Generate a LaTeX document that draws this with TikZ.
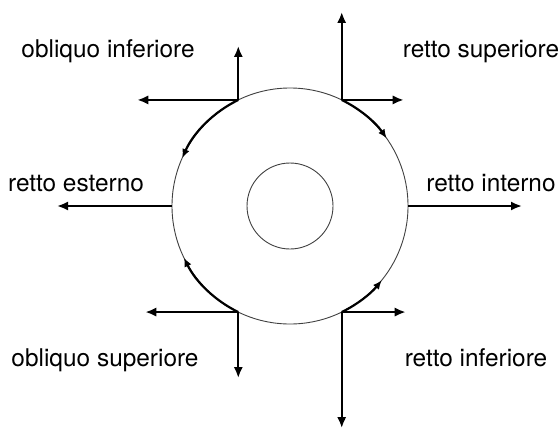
\documentclass[tikz,border=0pt]{standalone}
\usepackage{fontspec}
\setmainfont{TeX Gyre Heros}
\usetikzlibrary{arrows.meta,calc}
\tikzset{
  ring/.style={draw=black!75, line width=0.45pt},
  track/.style={draw, line width=1.1pt, -{Latex[length=4.5pt,width=3.8pt]}},
  pull/.style={draw, line width=1.1pt, -{Latex[length=5.5pt,width=4.6pt]}},
  lab/.style={anchor=base, inner sep=0pt, font=\fontsize{12.2}{14}\selectfont},
}

\begin{document}
\begin{tikzpicture}[x=0.5pt, y=0.5pt]
  \useasboundingbox (0,0) rectangle (560,430);
  % eye ball
  \coordinate (c) at (290,224);
  \draw[ring] (c) circle[radius=59pt];
  \draw[ring] (c) circle[radius=21.5pt];
  % insertion points
  \coordinate (ul) at ($(c)+(116:59pt)$);
  \coordinate (ur) at ($(c)+(64:59pt)$);
  \coordinate (ll) at ($(c)+(244:59pt)$);
  \coordinate (lr) at ($(c)+(296:59pt)$);
  \coordinate (w) at ($(c)+(180:59pt)$);
  \coordinate (e) at ($(c)+(0:59pt)$);
  % free ends
  \coordinate (ulN) at ($(ul)+(0,54)$);
  \coordinate (ulW) at ($(ul)+(-101,0)$);
  \coordinate (urN) at ($(ur)+(0,88)$);
  \coordinate (urE) at ($(ur)+(62,0)$);
  \coordinate (wW) at ($(w)+(-115,0)$);
  \coordinate (eE) at ($(e)+(114,0)$);
  \coordinate (llW) at ($(ll)+(-93,0)$);
  \coordinate (llS) at ($(ll)+(0,-66)$);
  \coordinate (lrE) at ($(lr)+(64,0)$);
  \coordinate (lrS) at ($(lr)+(0,-116)$);
  % rotation along the globe
  \draw[track] (ul) arc[start angle=116, end angle=156, radius=59pt];
  \draw[track] (ur) arc[start angle=64, end angle=35, radius=59pt];
  \draw[track] (ll) arc[start angle=244, end angle=206, radius=59pt];
  \draw[track] (lr) arc[start angle=296, end angle=321, radius=59pt];
  % pulls
  \draw[pull] (ul) -- (ulN);
  \draw[pull] (ul) -- (ulW);
  \draw[pull] (ur) -- (urN);
  \draw[pull] (ur) -- (urE);
  \draw[pull] (w) -- (wW);
  \draw[pull] (e) -- (eE);
  \draw[pull] (ll) -- (llW);
  \draw[pull] (ll) -- (llS);
  \draw[pull] (lr) -- (lrE);
  \draw[pull] (lr) -- (lrS);
  % muscles
  \node[lab] (oi) at (108,373) {obliquo inferiore};
  \node[lab] (rs) at (481,373) {retto superiore};
  \node[lab] (re) at (76,239) {retto esterno};
  \node[lab] (ri) at (491,239) {retto interno};
  \node[lab] (os) at (105,64) {obliquo superiore};
  \node[lab] (rinf) at (476,64) {retto inferiore};
\end{tikzpicture}
\end{document}
